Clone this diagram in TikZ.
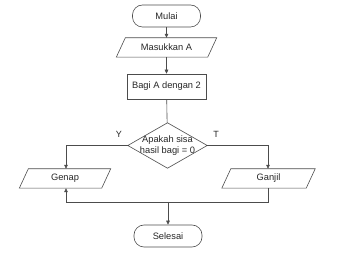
\documentclass[tikz,border=0pt]{standalone}
\usepackage{fontspec}
\setmainfont{Liberation Sans}
\usetikzlibrary{calc,arrows.meta}
\newcommand{\paraoutline}[2]{%
  \draw[box] ($(#1.south west)+(-#2,0)$) -- ($(#1.south east)+(-#2,0)$)
    -- ($(#1.north east)+(#2,0)$) -- ($(#1.north west)+(#2,0)$) -- cycle;}
\begin{document}
\begin{tikzpicture}[x=1pt,y=-1pt,
  every node/.style={font=\fontsize{9.3}{11.5}\selectfont, text=black!85},
  box/.style={draw=black!70, line width=0.6pt},
  term/.style={box, rectangle, rounded corners=10pt, minimum width=68pt, minimum height=22pt, inner sep=0pt},
  proc/.style={box, rectangle, minimum width=79pt, minimum height=25pt, inner sep=0pt},
  io/.style={rectangle, minimum height=19pt, inner sep=0pt},
  dec/.style={rectangle, minimum width=79pt, minimum height=45pt, inner sep=0pt, align=center},
  conn/.style={draw=black!70, line width=0.6pt},
  arr/.style={conn, -{Triangle[length=4pt,width=3.6pt]}},
  lbl/.style={font=\fontsize{9}{10}\selectfont}
]
\useasboundingbox (0,0) rectangle (343,264);
\node[term] (mulai) at (166.5,16) {Mulai};
\node[io, minimum width=91pt] (input) at (166.5,47.5) {Masukkan A};
\node[proc] (bagi) at (166.5,86.5) {Bagi A dengan 2};
\node[dec] (cek) at (167.5,145.5) {Apakah sisa\\hasil bagi = 0};
\node[io, minimum width=82pt] (genap) at (65,178.5) {Genap};
\node[io, minimum width=84pt] (ganjil) at (268.5,178.5) {Ganjil};
\node[term] (selesai) at (168,236) {Selesai};
\node[lbl] (ly) at (119,134) {Y};
\node[lbl] (lt) at (216,134) {T};
\paraoutline{input}{4.5}
\paraoutline{genap}{4.5}
\paraoutline{ganjil}{4.5}
\draw[box] (cek.north) -- (cek.east) -- (cek.south) -- (cek.west) -- cycle;
\coordinate (jg) at (66,202);
\coordinate (jm) at (168,202);
\draw[arr] (mulai) -- (input);
\draw[arr] (input) -- (bagi);
\draw[conn] (bagi) -- (cek);
\draw[arr] (cek.west) -| ([xshift=1pt]genap.north);
\draw[arr] (cek.east) -| ([xshift=-0.5pt]ganjil.north);
\draw[conn] ([xshift=-0.5pt]ganjil.south) |- (jg);
\draw[arr] (jg) -- ([xshift=1pt]genap.south);
\draw[arr] (jm) -- (selesai);
\end{tikzpicture}
\end{document}
